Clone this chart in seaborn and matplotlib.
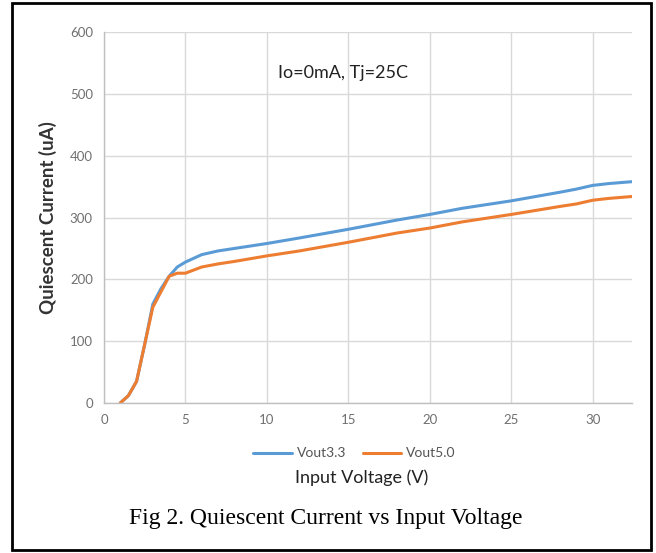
import matplotlib
matplotlib.use("Agg")
import matplotlib.pyplot as plt
import seaborn as sns
import pandas as pd
from matplotlib.patches import Rectangle
from matplotlib.lines import Line2D

# Data
v33_x = [1, 1.5, 2, 2.5, 3, 3.5, 4, 4.5, 5, 6, 7, 8, 10, 12, 15, 18, 20, 22, 25, 28, 29, 30, 31, 32.4]
v33_y = [0, 12, 35, 95, 160, 185, 205, 220, 228, 240, 246, 250, 258, 267, 281, 296, 305, 315, 327, 341, 346, 352, 355, 358]
v50_x = [1, 1.5, 2, 2.5, 3, 3.5, 4, 4.5, 5, 6, 7, 8, 10, 12, 15, 18, 20, 22, 25, 28, 29, 30, 31, 32.4]
v50_y = [0, 12, 35, 95, 155, 180, 205, 210, 210, 220, 225, 229, 238, 246, 260, 275, 283, 293, 305, 318, 322, 328, 331, 334]
series_names = ["Vout3.3", "Vout5.0"]
x_ticks = [0, 5, 10, 15, 20, 25, 30]
y_ticks = [0, 100, 200, 300, 400, 500, 600]

df = pd.concat([
    pd.DataFrame({"Vin": v33_x, "Iq": v33_y, "series": series_names[0]}),
    pd.DataFrame({"Vin": v50_x, "Iq": v50_y, "series": series_names[1]}),
])

sns.set_style("white")
plt.rcParams['font.family'] = ['Lato', 'DejaVu Sans']

fig = plt.figure(figsize=(6.56, 5.53), dpi=100)
ax = fig.add_axes([0.1585, 0.2712, 0.8045, 0.6708])

sns.lineplot(data=df, x="Vin", y="Iq", hue="series",
             palette=["#5b9bd5", "#ed7d31"], linewidth=2.2, ax=ax, legend=False)

ax.set_xlim(0, 32.4)
ax.set_ylim(0, 600)
ax.set_xticks(x_ticks)
ax.set_yticks(y_ticks)
ax.tick_params(length=0, labelsize=9.5, labelcolor="#707070", pad=8)
ax.grid(True, color="#d9d9d9", linewidth=1)
for s in ["top", "right"]:
    ax.spines[s].set_visible(False)
for s in ["left", "bottom"]:
    ax.spines[s].set_color("#bfbfbf")
    ax.spines[s].set_linewidth(1)
ax.set_xlabel("")
ax.set_ylabel("Quiescent Current (uA)", fontsize=13.5, fontweight="bold", color="#333333", labelpad=9)

ax.text(0.33, 0.89, "Io=0mA, Tj=25C", transform=ax.transAxes, fontsize=13, color="#222222", va="center")

# Legend
handles = [Line2D([], [], color="#5b9bd5", lw=2.2), Line2D([], [], color="#ed7d31", lw=2.2)]
fig.legend(handles, series_names, loc="center", bbox_to_anchor=(0.54, 0.18), ncol=2,
           frameon=False, fontsize=10, handlelength=2.8, columnspacing=1.2, handletextpad=0.3,
           labelcolor="#555555")

fig.text(0.552, 0.137, "Input Voltage (V)", ha="center", va="center", fontsize=13, color="#222222")
fig.text(0.497, 0.063, "Fig 2. Quiescent Current vs Input Voltage", ha="center", va="center",
         fontsize=17, family=["Liberation Serif"], color="black")

fig.patches.append(Rectangle((0.018, 0.006), 0.975, 0.988, transform=fig.transFigure,
                             fill=False, edgecolor="black", linewidth=2))

fig.savefig("out.png", dpi=100)
